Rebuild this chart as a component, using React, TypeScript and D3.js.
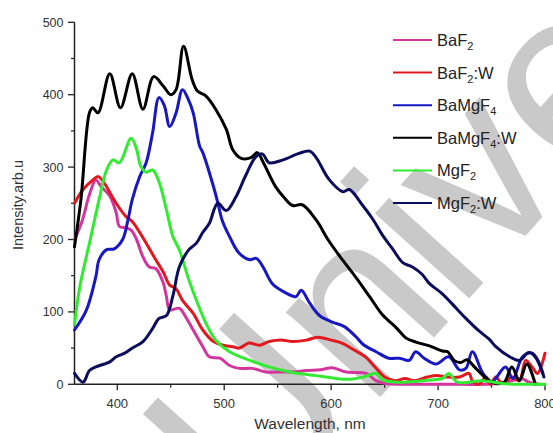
import React from "react";
import * as d3 from "d3";

// Emission spectra: [wavelength nm, intensity a.u.]
const baF2: [number, number][] = [
  [360, 200], [367, 225], [374, 262], [380, 282], [385, 273], [393, 260], [399, 237], [402, 218],
  [408, 216], [413, 213], [418, 200], [424, 176], [430, 162], [436, 160], [443, 140], [446, 121],
  [449, 103], [458, 105], [464, 93], [471, 75], [480, 52], [486, 38], [496, 36], [505, 26],
  [514, 22], [526, 22], [539, 17], [552, 17], [564, 17], [577, 19], [590, 20], [601, 23],
  [614, 17], [633, 15], [642, 5], [651, 1], [665, 0], [690, 0], [720, 0], [745, 0],
  [760, 2], [769, 5], [778, 8], [785, 3], [795, 0],
];

const baF2W: [number, number][] = [
  [360, 250], [368, 269], [377, 282], [382, 287], [386, 282], [399, 250], [408, 232], [414, 225],
  [427, 195], [436, 172], [443, 155], [449, 137], [455, 132], [461, 116], [471, 98], [480, 75],
  [490, 59], [499, 54], [508, 52], [514, 50], [523, 57], [533, 54], [542, 59], [555, 61],
  [564, 59], [577, 61], [587, 65], [600, 61], [610, 57], [622, 47], [632, 38], [641, 24],
  [650, 10], [660, 5], [669, 8], [678, 5], [690, 10], [699, 12], [708, 10], [720, 10],
  [729, 15], [732, 5], [738, 0], [745, 10], [749, 0], [754, 10], [760, 1], [769, 10],
  [776, 5], [782, 33], [788, 24], [793, 15], [800, 43],
];

const baMgF4: [number, number][] = [
  [360, 75], [371, 102], [380, 149], [383, 172], [390, 186], [397, 187], [405, 200], [410, 227],
  [414, 255], [421, 287], [427, 306], [433, 347], [439, 396], [444, 385], [449, 356], [455, 375],
  [461, 407], [466, 395], [471, 375], [477, 329], [480, 320], [489, 278], [494, 251], [498, 227],
  [505, 204], [514, 181], [524, 172], [530, 174], [536, 163], [545, 139], [558, 126], [567, 121],
  [572, 130], [580, 112], [589, 95], [601, 86], [612, 80], [623, 66], [630, 55], [642, 45],
  [654, 36], [664, 36], [673, 33], [679, 45], [687, 36], [698, 28], [710, 38], [720, 20],
  [726, 22], [732, 45], [742, 15], [750, 3], [763, 24], [770, 8], [779, 38], [788, 43],
  [798, 15],
];

const baMgF4W: [number, number][] = [
  [360, 190], [366, 255], [374, 375], [377, 382], [382, 375], [393, 429], [403, 382], [414, 429],
  [424, 380], [434, 425], [443, 412], [450, 400], [455, 407], [462, 467], [470, 421], [475, 405],
  [483, 398], [492, 380], [502, 352], [508, 324], [516, 312], [525, 313], [531, 320], [537, 305],
  [548, 273], [556, 258], [564, 247], [573, 248], [586, 227], [597, 200], [608, 177], [623, 148],
  [636, 121], [648, 96], [661, 78], [670, 64], [680, 58], [692, 53], [704, 46], [709, 45],
  [715, 33], [721, 30], [727, 34], [734, 24], [740, 15], [746, 7], [754, 1], [762, 3],
  [769, 24], [776, 5], [783, 28], [791, 0],
];

const mgF2: [number, number][] = [
  [360, 82], [365, 135], [374, 195], [383, 255], [390, 296], [396, 310], [402, 306], [413, 340],
  [418, 325], [422, 301], [427, 293], [433, 296], [439, 280], [446, 241], [452, 204], [458, 186],
  [464, 158], [467, 144], [474, 116], [483, 84], [492, 61], [505, 45], [524, 33], [542, 24],
  [561, 17], [586, 12], [605, 8], [618, 7], [630, 10], [642, 15], [648, 6], [661, 3],
  [680, 4], [692, 6], [704, 8], [710, 15], [718, 3], [742, 5], [760, 1], [800, 0],
];

const mgF2W: [number, number][] = [
  [360, 15], [368, 3], [374, 19], [380, 24], [393, 31], [399, 38], [407, 43], [414, 50],
  [424, 59], [433, 77], [439, 91], [446, 95], [452, 122], [458, 162], [467, 186], [474, 195],
  [480, 210], [486, 222], [494, 250], [502, 240], [511, 259], [520, 288], [530, 315], [536, 318],
  [542, 306], [555, 310], [570, 319], [580, 322], [586, 313], [598, 283], [611, 266], [617, 269],
  [629, 248], [639, 228], [648, 206], [657, 188], [667, 168], [676, 162], [685, 152], [692, 139],
  [704, 125], [717, 105], [726, 91], [738, 74], [748, 62], [754, 52], [767, 38], [776, 33],
  [785, 44], [792, 36], [799, 10],
];

// Legend labels: plain text with subscript digits
const seriesNames: [string, boolean][][] = [
  [["BaF", false], ["2", true]],
  [["BaF", false], ["2", true], [":W", false]],
  [["BaMgF", false], ["4", true]],
  [["BaMgF", false], ["4", true], [":W", false]],
  [["MgF", false], ["2", true]],
  [["MgF", false], ["2", true], [":W", false]],
];
const seriesData = [baF2, baF2W, baMgF4, baMgF4W, mgF2, mgF2W];
const seriesColors = ["#d4359c", "#e2181f", "#1717c4", "#000000", "#33ea33", "#0c0c5c"];

const xTicks = [400, 500, 600, 700, 800];
const xMinorTicks = [450, 550, 650, 750];
const yTicks = [0, 100, 200, 300, 400, 500];
const yMinorTicks = [50, 150, 250, 350, 450];

const W = 553;
const H = 433;
const FONT = "'Liberation Sans', Arial, sans-serif";

export default function App() {
  const x = d3.scaleLinear().domain([360, 800]).range([74.5, 545]);
  const y = d3.scaleLinear().domain([0, 500]).range([384.3, 22.3]);
  const line = d3
    .line<[number, number]>()
    .x((d) => x(d[0]))
    .y((d) => y(d[1]))
    .curve(d3.curveCatmullRom.alpha(0.5));

  const x0 = x.range()[0];
  const y0 = y.range()[0];
  const axisColor = "#222";
  const labelColor = "#333";

  return (
    <svg
      width={W}
      height={H}
      style={{ position: "absolute", left: 0, top: 0, background: "#fff" }}
      fontFamily={FONT}
    >
      <rect x={0} y={0} width={W} height={H} fill="#fff" />

      {/* background watermark */}
      <g transform="translate(405,262) rotate(-48)">
        <text x={0} y={72} textAnchor="middle" fontSize={240} fill="#c9c9c9">
          Unive
        </text>
      </g>

      {/* axes */}
      <line x1={x0} x2={x(800)} y1={y0} y2={y0} stroke={axisColor} strokeWidth={1.5} />
      <line x1={x0} x2={x0} y1={y0} y2={y(500)} stroke={axisColor} strokeWidth={1.5} />
      {xTicks.map((t) => (
        <g key={"xt" + t}>
          <line x1={x(t)} x2={x(t)} y1={y0} y2={y0 + 6} stroke={axisColor} strokeWidth={1.3} />
          <text x={x(t)} y={y0 + 24} textAnchor="middle" fontSize={13} fill={labelColor}>
            {t}
          </text>
        </g>
      ))}
      {xMinorTicks.map((t) => (
        <line key={"xm" + t} x1={x(t)} x2={x(t)} y1={y0} y2={y0 + 3.5} stroke={axisColor} strokeWidth={1.2} />
      ))}
      {yTicks.map((t) => (
        <g key={"yt" + t}>
          <line x1={x0 - 6.5} x2={x0} y1={y(t)} y2={y(t)} stroke={axisColor} strokeWidth={1.3} />
          <text x={x0 - 11} y={y(t) + 4.5} textAnchor="end" fontSize={12.5} fill={labelColor}>
            {t}
          </text>
        </g>
      ))}
      {yMinorTicks.map((t) => (
        <line key={"ym" + t} x1={x0 - 3.5} x2={x0} y1={y(t)} y2={y(t)} stroke={axisColor} strokeWidth={1.2} />
      ))}

      <text x={310} y={429} textAnchor="middle" fontSize={15.5} fill={labelColor}>
        Wavelength, nm
      </text>
      <text
        transform="translate(23,205) rotate(-90)"
        textAnchor="middle"
        fontSize={14.5}
        fill={labelColor}
      >
        Intensity.arb.u
      </text>

      {/* spectra */}
      {seriesData.map((d, i) => (
        <path
          key={"s" + i}
          d={line(d) ?? ""}
          fill="none"
          stroke={seriesColors[i]}
          strokeWidth={3}
          strokeLinejoin="round"
          strokeLinecap="round"
        />
      ))}

      {/* legend */}
      {seriesNames.map((parts, i) => {
        const ly = 40 + i * 32.6;
        return (
          <g key={"lg" + i}>
            <line x1={393} x2={432} y1={ly} y2={ly} stroke={seriesColors[i]} strokeWidth={2} />
            <text x={437} y={ly + 6} fontSize={16.5} fill="#222">
              {parts.map(([t, sub], j) => (
                <tspan key={j} fontSize={sub ? 11 : 16.5} dy={sub ? 4 : j > 0 ? -4 : 0}>
                  {t}
                </tspan>
              ))}
            </text>
          </g>
        );
      })}
    </svg>
  );
}
